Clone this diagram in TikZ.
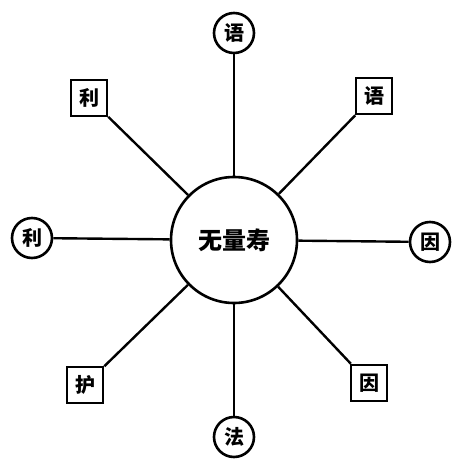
\documentclass[tikz,border=0pt]{standalone}
\usepackage{fontspec}
\newfontfamily\cjk{Noto Sans CJK SC}
\tikzset{
  cnode/.style={circle,draw,line width=2.6pt,minimum size=40pt,inner sep=0pt,font=\cjk\bfseries\fontsize{20}{20}\selectfont},
  bnode/.style={rectangle,draw,line width=2.6pt,minimum size=36pt,inner sep=0pt,font=\cjk\bfseries\fontsize{20}{20}\selectfont},
  center/.style={circle,draw,line width=2.6pt,minimum size=126pt,inner sep=0pt,font=\cjk\bfseries\fontsize{24}{24}\selectfont},
  conn/.style={line width=2.4pt}
}
\begin{document}
\begin{tikzpicture}[x=1pt,y=-1pt]
\useasboundingbox (0,0) rectangle (456,460);
\node[center] (c) at (234,240) {无量寿};
\node[cnode] (t) at (234,33) {语};
\node[cnode] (b) at (234,437) {法};
\node[cnode] (l) at (32,238) {利};
\node[cnode] (r) at (430,242) {因};
\node[bnode] (ul) at (89,98) {利};
\node[bnode] (ur) at (374,96) {语};
\node[bnode] (ll) at (85,385) {护};
\node[bnode] (lr) at (369,383) {因};
\foreach \n in {t,b,l,r,ul,ur,ll,lr} \draw[conn] (c) -- (\n);
\end{tikzpicture}
\end{document}
